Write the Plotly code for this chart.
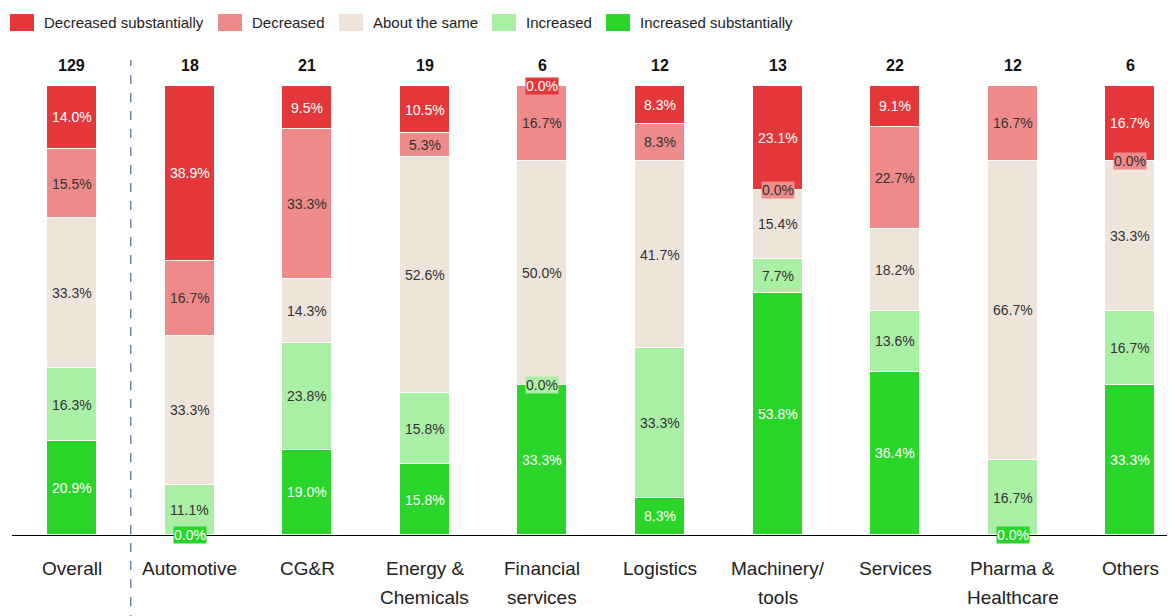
import plotly.graph_objects as go

categories = ["Overall", "Automotive", "CG&R", "Energy &<br>Chemicals", "Financial<br>services",
              "Logistics", "Machinery/<br>tools", "Services", "Pharma &<br>Healthcare", "Others"]
counts = [129, 18, 21, 19, 6, 12, 13, 22, 12, 6]

inc_sub = [20.9, 0.0, 19.0, 15.8, 33.3, 8.3, 53.8, 36.4, 0.0, 33.3]
increased = [16.3, 11.1, 23.8, 15.8, 0.0, 33.3, 7.7, 13.6, 16.7, 16.7]
same = [33.3, 33.3, 14.3, 52.6, 50.0, 41.7, 15.4, 18.2, 66.7, 33.3]
decreased = [15.5, 16.7, 33.3, 5.3, 16.7, 8.3, 0.0, 22.7, 16.7, 0.0]
dec_sub = [14.0, 38.9, 9.5, 10.5, 0.0, 8.3, 23.1, 9.1, 0.0, 16.7]

series = [
    ("Increased substantially", inc_sub, "#2AD52A", "white"),
    ("Increased", increased, "#A9F0A5", "#333333"),
    ("About the same", same, "#EEE4DA", "#333333"),
    ("Decreased", decreased, "#EE8A8A", "#333333"),
    ("Decreased substantially", dec_sub, "#E3373A", "white"),
]

FONT = "Liberation Sans, Arial, sans-serif"
W, H = 1175, 616
OFF = 8  # page body margin offset
ML, MT = 12 - OFF, 86 - OFF
MR = W - (1175 - OFF)
MB = H - (535 - OFF)
PW, PH = W - ML - MR, H - MT - MB


def px_x(p):
    return (p - OFF - ML) / PW


def px_y(p):
    return (H - MB - (p - OFF)) / PH


fig = go.Figure()
annotations = []
shapes = []
base = [0.0] * len(categories)
for name, vals, color, tcolor in series:
    fig.add_trace(go.Bar(
        x=list(range(len(categories))), y=vals, name=name, showlegend=False,
        marker=dict(color=color, line=dict(color="white", width=1.5)),
        width=0.425, hoverinfo="skip",
    ))
    for i, v in enumerate(vals):
        if v > 0:
            annotations.append(dict(x=i, y=base[i] + v / 2, xref="x", yref="y",
                                    text=f"{v:.1f}%", showarrow=False,
                                    font=dict(family=FONT, size=14, color=tcolor)))
        else:
            annotations.append(dict(x=i, y=base[i], xref="x", yref="y",
                                    text=f"{v:.1f}%", showarrow=False, bgcolor=color,
                                    borderpad=0,
                                    font=dict(family=FONT, size=14, color=tcolor)))
        base[i] += v

for i, n in enumerate(counts):
    annotations.append(dict(x=i, y=1, xref="x", yref="paper", yshift=21, yanchor="middle",
                            text=f"<b>{n}</b>", showarrow=False,
                            font=dict(family=FONT, size=16, color="#111111")))

# category labels (line by line for line spacing)
for i, c in enumerate(categories):
    for k, line in enumerate(c.split("<br>")):
        annotations.append(dict(x=i, y=0, xref="x", yref="paper", yanchor="middle",
                                yshift=-(33 + 29 * k), text=line, showarrow=False,
                                font=dict(family=FONT, size=19, color="#222222")))

# legend (manual, to match swatch shape and spacing)
legend_items = [("Decreased substantially", "#E3373A", 10),
                ("Decreased", "#EE8A8A", 218),
                ("About the same", "#EEE4DA", 339),
                ("Increased", "#A9F0A5", 492),
                ("Increased substantially", "#2AD52A", 606)]
for name, color, sx in legend_items:
    shapes.append(dict(type="rect", xref="paper", yref="paper",
                       x0=px_x(sx), x1=px_x(sx + 24), y0=px_y(31), y1=px_y(14),
                       fillcolor=color, line=dict(width=0)))
    annotations.append(dict(x=px_x(sx + 32), y=px_y(22.5), xref="paper", yref="paper",
                            xanchor="left", yanchor="middle", text=name, showarrow=False,
                            font=dict(family=FONT, size=15, color="#222222")))

shapes.append(dict(type="line", xref="x", yref="paper", x0=0.5, x1=0.5,
                   y0=px_y(624), y1=px_y(60),
                   line=dict(color="#4F6E86", width=1.2, dash="dash")))

fig.update_layout(
    width=W, height=H,
    margin=dict(l=ML, r=MR, t=MT, b=MB, autoexpand=False),
    barmode="stack", bargap=0,
    plot_bgcolor="white", paper_bgcolor="white",
    font=dict(family=FONT, color="#222222"),
    showlegend=False,
    annotations=annotations,
    shapes=shapes,
    xaxis=dict(tickmode="array", tickvals=list(range(len(categories))),
               showticklabels=False,
               range=[-0.51, 9.38], showline=True, linecolor="black", linewidth=1,
               ticks="", showgrid=False, zeroline=False),
    yaxis=dict(range=[0, 100], visible=False, showgrid=False),
)

fig.write_html("out.html")
